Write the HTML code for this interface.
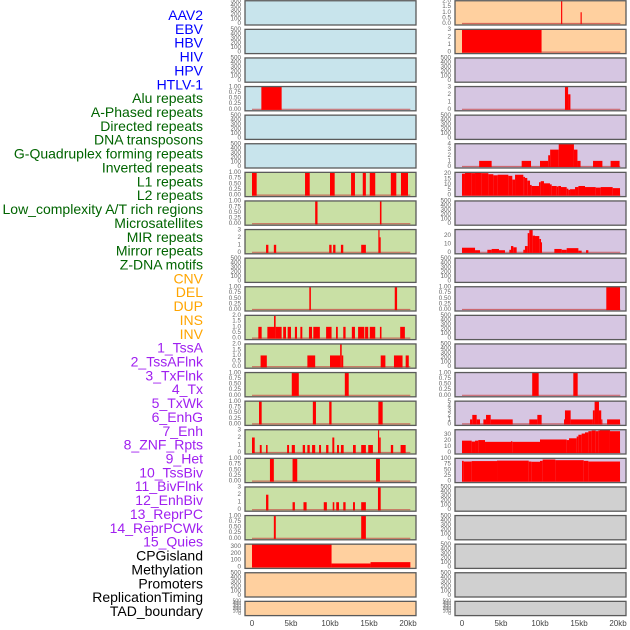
<!DOCTYPE html>
<html><head><meta charset="utf-8"><style>
html,body{margin:0;padding:0;background:#fff;}
svg{display:block;font-family:"Liberation Sans",sans-serif;}
</style></head><body>
<svg id="chart" width="630" height="630" viewBox="0 0 630 630" xmlns="http://www.w3.org/2000/svg"></svg>
<script>
const trackLabels=["AAV2","EBV","HBV","HIV","HPV","HTLV-1","Alu repeats","A-Phased repeats","Directed repeats","DNA transposons","G-Quadruplex forming repeats","Inverted repeats","L1 repeats","L2 repeats","Low_complexity A/T rich regions","Microsatellites","MIR repeats","Mirror repeats","Z-DNA motifs","CNV","DEL","DUP","INS","INV","1_TssA","2_TssAFlnk","3_TxFlnk","4_Tx","5_TxWk","6_EnhG","7_Enh","8_ZNF_Rpts","9_Het","10_TssBiv","11_BivFlnk","12_EnhBiv","13_ReprPC","14_ReprPCWk","15_Quies","CPGisland","Methylation","Promoters","ReplicationTiming","TAD_boundary"];
const labelColors=[];
for(let i=0;i<44;i++){labelColors.push(i<6?"#0000ff":i<19?"#006400":i<24?"#ffa500":i<39?"#a020f0":"#000000");}
const xTicks=[0,5,10,15,20];
const xTickLabels=["0","5kb","10kb","15kb","20kb"];
const emptyTicks=[0,100,200,300,400,500];
const t01=[0,0.25,0.5,0.75,1];
const t02=[0,0.5,1,1.5,2];
const t03=[0,1,2,3];
// left column data: [start kb, end kb, value]
const L3=[[1.2,3.8,1]];
const L6=[[0,0.6,1],[6.8,7.4,1],[10,10.6,1],[12.7,13.2,1],[14.2,14.6,1],[15.1,15.8,1],[17.8,18.5,1],[19.1,20,1]];
const L7=[[8.1,8.4,1],[16.4,16.6,1]];
const L8=[[1.8,2.1,1],[2.8,3.1,1],[9.9,10.2,1],[10.4,10.7,1],[11.4,11.7,1],[14,14.6,1],[16.2,16.35,3],[16.35,16.5,2]];
const L10=[[7.35,7.55,1],[18.3,18.6,1]];
const L11=[[0.81,1.24,1],[1.97,2.82,1],[2.82,3.03,2],[3.03,3.8,1],[4,4.36,1],[4.57,5,1],[5.5,5.77,1],[6.2,6.45,1],[7.3,7.7,1],[7.86,8.7,1],[9.5,10.2,1],[10.77,11,1],[11.7,12,1],[12.8,13.2,1],[13.6,14.4,1],[14.5,14.9,1],[15.1,15.8,1],[16.4,16.6,1],[19,19.6,1]];
const L12=[[1.1,1.9,1],[7.1,8.1,1],[10,11.3,1],[11.3,11.5,2],[11.5,11.7,1],[16.5,17.1,1],[18.2,19.3,1],[19.7,20.1,1]];
const L13=[[5.1,6,1],[11.9,12.4,1]];
const L14=[[0.9,1.24,1],[7.8,8.2,1],[9.9,10.2,1],[16.2,16.75,1]];
const L15=[[0,0.35,2],[1,1.24,1],[1.8,2,1],[4.5,4.75,1],[5.1,5.5,1],[6.5,6.8,1],[7.1,7.4,1],[7.7,8.1,1],[8.6,8.85,1],[9.5,9.8,1],[10.3,10.55,2],[10.9,11.15,1],[11.4,11.75,1],[12.95,13.3,1],[14,14.6,1],[14.9,15.5,1],[16.15,16.3,3],[16.3,16.5,2],[17.8,18.1,1],[19.05,19.7,1]];
const L16=[[2.3,2.8,1],[5.2,5.8,1],[15.9,16.4,1]];
const L17=[[1.8,2.1,2],[5.2,5.5,1],[6.6,7,1],[9.2,9.6,1],[10.35,10.55,1],[10.8,11.15,1],[11.7,12,1],[12.95,13.2,1],[14,14.6,1],[16.15,16.5,3]];
const L18=[[2.8,3.05,1],[14,14.6,1]];
const L19=[[0,10.2,330],[10.2,15.2,50],[15.2,20.3,70]];
// right column data
const R0=[[12.7,12.85,2],[15.2,15.35,1]];
const R1=[[0,10.2,3]];
const R3=[[13.2,13.6,3],[13.6,13.9,2]];
const R5=[[2.2,3.8,1],[7.65,8.85,1],[10,11.05,1],[11.05,11.3,2],[11.3,12.4,3],[12.4,14.35,4],[14.35,14.8,3],[14.8,15.2,1],[16.8,18,1],[19.05,20.2,1]];
const R6=[[0,0.38,20],[0.38,1.24,21],[1.24,1.67,20.5],[1.67,2.52,21],[2.52,3.38,20.5],[3.38,4.02,19.5],[4.02,4.57,18.5],[4.57,5.94,19],[5.94,6.45,18],[6.45,6.8,14.5],[6.8,7.86,19],[7.86,8.07,17],[8.07,8.37,16],[8.37,8.72,13.5],[8.72,8.93,9.5],[8.93,9.87,8.5],[9.87,10.09,12],[10.09,10.51,13],[10.51,11.28,11],[11.28,11.5,10],[11.5,12.14,8.5],[12.14,12.35,8],[12.35,12.69,8.5],[12.69,13.42,7.5],[13.42,13.63,6],[13.63,13.85,5],[13.85,14.49,5.5],[14.49,14.92,7.5],[14.92,15.77,8.5],[15.77,17.14,7.5],[17.14,17.78,7],[17.78,19.32,7.5],[19.32,20.26,6.5]];
const R8=[[0,1.67,5.5],[1.67,2.31,2.5],[3.25,3.8,3],[3.8,4.74,4],[4.74,5.51,2.5],[6.07,6.28,3],[6.28,6.58,7.5],[6.58,7.01,6],[7.86,8.07,3],[8.07,8.42,7.5],[8.42,8.63,23],[8.63,9.06,27.5],[9.06,9.36,20],[9.36,9.91,19.5],[9.91,10.13,16],[10.13,10.21,12],[11.84,12.78,4],[12.78,13.42,3],[13.42,14.92,5],[14.92,15.34,2],[15.9,16.2,2.5]];
const R10=[[18.5,20.26,1]];
const R13=[[9,9.83,1],[14.27,14.83,1]];
const R14=[[1.03,1.32,1],[1.32,1.88,2],[1.88,2.31,1],[2.74,3.08,1],[3.08,3.68,2],[3.68,6.5,1],[8.63,9.66,1],[9.66,10.21,2],[13.08,13.2,1],[13.2,13.93,3],[13.93,16.78,1],[16.78,17,3],[17,17.56,5],[17.56,17.85,3],[17.85,18,1],[18.6,20.26,1]];
const R15=[[0,1.24,20],[1.24,1.67,18.5],[1.67,2.09,20],[2.09,2.95,21],[2.95,6.28,18],[6.28,6.45,19],[6.45,10,18],[10,13.42,22],[13.42,13.72,21],[13.72,14.7,24],[14.7,14.92,27],[14.92,15.34,30],[15.34,15.77,32],[15.77,16.2,34],[16.2,16.62,36],[16.62,17.14,37],[17.14,17.48,36],[17.48,17.69,37],[17.69,18.97,38],[18.97,20.26,36]];
const R16=[[0,0.21,90],[0.21,1.24,87],[1.24,4.49,89],[4.49,8.55,91],[8.55,8.89,87],[8.89,10,86],[10,10.34,90],[10.34,11.97,96],[11.97,15.6,93],[15.6,16.2,90],[16.2,20.26,87]];

const BLUE="#c8e4ec",GREEN="#c9e0a5",ORANGE="#ffd09f",PURPLE="#d6c6e2",GRAY="#d0d0d0";
const leftPanels=[
[BLUE,null,500,emptyTicks],[BLUE,null,500,emptyTicks],[BLUE,null,500,emptyTicks],[BLUE,L3,1,t01],[BLUE,null,500,emptyTicks],[BLUE,null,500,emptyTicks],
[GREEN,L6,1,t01],[GREEN,L7,1,t01],[GREEN,L8,3,t03],[GREEN,null,500,emptyTicks],[GREEN,L10,1,t01],[GREEN,L11,2,t02],[GREEN,L12,2,t02],[GREEN,L13,1,t01],[GREEN,L14,1,t01],[GREEN,L15,3,t03],[GREEN,L16,1,t01],[GREEN,L17,3,t03],[GREEN,L18,1,t01],
[ORANGE,L19,330,[0,100,200,300]],[ORANGE,null,500,emptyTicks],[ORANGE,null,500,emptyTicks]];
const rightPanels=[
[ORANGE,R0,2,t02],[ORANGE,R1,3,t03],[PURPLE,null,500,emptyTicks],[PURPLE,R3,3,t03],[PURPLE,null,500,emptyTicks],[PURPLE,R5,4,[0,1,2,3,4]],[PURPLE,R6,21,[0,5,10,15,20]],[PURPLE,null,500,emptyTicks],[PURPLE,R8,27,[0,10,20]],[PURPLE,null,500,emptyTicks],[PURPLE,R10,1,t01],[PURPLE,null,500,emptyTicks],[PURPLE,null,500,emptyTicks],[PURPLE,R13,1,t01],[PURPLE,R14,5,[0,1,2,3,4,5]],[PURPLE,R15,38,[0,10,20,30]],[PURPLE,R16,100,[0,25,50,75,100]],
[GRAY,null,500,emptyTicks],[GRAY,null,500,emptyTicks],[GRAY,null,500,emptyTicks],[GRAY,null,500,emptyTicks],[GRAY,null,500,emptyTicks]];

const NS="http://www.w3.org/2000/svg";
const svg=document.getElementById("chart");
function mk(tag,attrs,parent){const e=document.createElementNS(NS,tag);for(const k in attrs)e.setAttribute(k,attrs[k]);(parent||svg).appendChild(e);return e;}

// labels
trackLabels.forEach((t,i)=>{
  const e=mk("text",{x:203,y:15+i*13.86,"text-anchor":"end","dominant-baseline":"central","font-size":"14",fill:labelColors[i]});
  
  
  e.textContent=t;
});

function fmt(v,ticks){
  if(ticks===t01)return v.toFixed(2);
  if(ticks===t02)return v.toFixed(1);
  return String(v);
}
function drawPanel(p,row,left){
  const [bg,data,ymax,ticks]=p;
  const top=row*28.6;
  const h=row===21?15:25;
  const px=left?245:455, pw=171, zero=left?252:462;
  const xs=kb=>zero+kb*7.8;
  const y0=top+h-1.5, span=h-2.5;
  const ys=v=>y0-v/ymax*span;
  const g=mk("g",{});
  
  
  const r=mk("rect",{x:px,y:top+0.75,width:pw,height:h-0.75,fill:bg},g);
  
  
  ticks.forEach(t=>{
    const tx=mk("text",{x:px-4,y:ys(t),"text-anchor":"end","dominant-baseline":"central","font-size":row===21?"5":"6.3",fill:"#666"},g);
    
    
    tx.textContent=fmt(t,ticks);
  });
  if(data){
    const bl=mk("line",{x1:xs(0),x2:xs(20.3),y1:y0,y2:y0,stroke:"#c84040","stroke-width":"1.2","stroke-opacity":"0.7"},g);
    
    
    data.forEach(d=>{
      const yv=ys(Math.min(d[2],ymax*1.02));
      const b=mk("rect",{x:xs(d[0]),y:yv,width:Math.max(1,xs(d[1])-xs(d[0])),height:y0-yv+0.6,fill:"#ff0000"},g);
      
      
    });
  }
  const bd=mk("rect",{x:px,y:top+0.75,width:pw,height:h-0.75,fill:"none",stroke:"#5a5a5a","stroke-width":"1.3"},g);
  
  
}
leftPanels.forEach((p,i)=>drawPanel(p,i,true));
rightPanels.forEach((p,i)=>drawPanel(p,i,false));
[252,462].forEach(z=>{
  xTicks.forEach((t,i)=>{
    const e=mk("text",{x:z+t*7.8,y:626,"text-anchor":"middle","font-size":"8",fill:"#444"});
    
    
    e.textContent=xTickLabels[i];
  });
});
</script>
</body></html>
